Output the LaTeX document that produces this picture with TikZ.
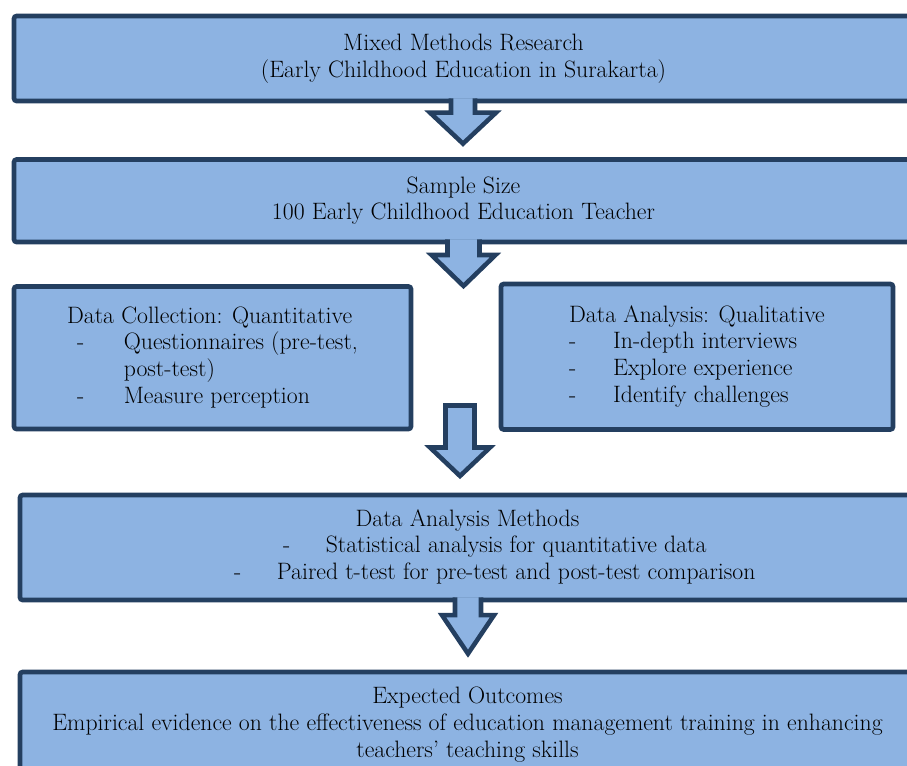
\documentclass[tikz,border=0pt]{standalone}
\usepackage{xcolor}
\usepackage{tikz}
\usetikzlibrary{calc}
\definecolor{boxFill}{HTML}{8DB3E2}
\definecolor{boxDraw}{HTML}{243F60}
\tikzset{
  flowbox/.style={draw=boxDraw, fill=boxFill, line width=3.5pt, rounded corners=2pt,
    inner sep=0pt, align=center, font=\fontsize{17.8pt}{20pt}\selectfont},
  downarrow/.style={draw=boxDraw, fill=boxFill, line width=3.4pt, line join=miter}
}
\providecommand{\BlockArrow}[6][]{%
  % #2 top of shaft, #3 tip
  \edef\shaft{#4}% px
  \edef\head{#5}% px
  \edef\headlen{#6}% px
  \filldraw[downarrow] ($(#2)+(-\shaft,0)$) -- ($(#3)+(-\shaft,-\headlen)$)
    -- ($(#3)+(-\head,-\headlen)$) -- (#3) -- ($(#3)+(\head,-\headlen)$)
    -- ($(#3)+(\shaft,-\headlen)$) -- ($(#2)+(\shaft,0)$) #1;
}

\begin{document}
\begin{tikzpicture}[x=0.75pt, y=-0.75pt]
  \useasboundingbox (0,0) rectangle (907,765);

  % boxes
  \node[flowbox, minimum width=674.25pt, minimum height=63.75pt] (mixed) at (463.5,58.5)
    {Mixed Methods Research\\(Early Childhood Education in Surakarta)};
  \node[flowbox, minimum width=674.25pt, minimum height=61.9pt] (sample) at (463.5,200.75)
    {Sample Size\\100 Early Childhood Education Teacher};
  \node[flowbox, minimum width=297.75pt, minimum height=106.9pt] (quanti) at (212.5,357.75)
    {\begin{tabular}{@{}l@{}}
      Data Collection: Quantitative\\
      \hspace*{7.5pt}\makebox[35pt][l]{-}Questionnaires (pre-test,\\
      \hspace*{7.5pt}\makebox[35pt][l]{}post-test)\\
      \hspace*{7.5pt}\makebox[35pt][l]{-}Measure perception
    \end{tabular}};
  \node[flowbox, minimum width=294pt, minimum height=109.1pt] (quali) at (697,356.75)
    {\begin{tabular}{@{}l@{}}
      Data Analysis: Qualitative\\
      \makebox[33pt][l]{-}In-depth interviews\\
      \makebox[33pt][l]{-}Explore experience\\
      \makebox[33pt][l]{-}Identify challenges
    \end{tabular}};
  \node[flowbox, minimum width=671.25pt, minimum height=78.75pt] (methods) at (467.5,547.5)
    {\begin{tabular}{@{}c@{}}
      Data Analysis Methods\\
      \hspace*{41pt}\makebox[32pt][l]{-}Statistical analysis for quantitative data\\
      \hspace*{41pt}\makebox[32pt][l]{-}Paired t-test for pre-test and post-test comparison
    \end{tabular}};
  \node[flowbox, minimum width=671.25pt, minimum height=78.75pt] (outcomes) at (467.5,724.5)
    {Expected Outcomes\\
     Empirical evidence on the effectiveness of education management training in enhancing\\
     teachers' teaching skills};

  % arrows
  \coordinate (a1top) at ($(mixed.south)+(-0.5,-5)$);
  \coordinate (a1tip) at ($(sample.north)+(-0.5,-13.5)$);
  \coordinate (a2top) at ($(sample.south)+(0,-5)$);
  \coordinate (a2tip) at (463.5,286);
  \coordinate (a3top) at (460,405.5);
  \coordinate (a3tip) at (460,476);
  \coordinate (a4top) at ($(methods.south)+(0.5,-5)$);
  \coordinate (a4tip) at ($(outcomes.north)+(0.5,-16)$);

  \BlockArrow{a1top}{a1tip}{12}{33}{31}
  \BlockArrow{a2top}{a2tip}{16}{32}{31}
  \BlockArrow[-- cycle]{a3top}{a3tip}{14.5}{30}{28.5}
  \BlockArrow{a4top}{a4tip}{13}{26}{38.5}

\end{tikzpicture}
\end{document}
